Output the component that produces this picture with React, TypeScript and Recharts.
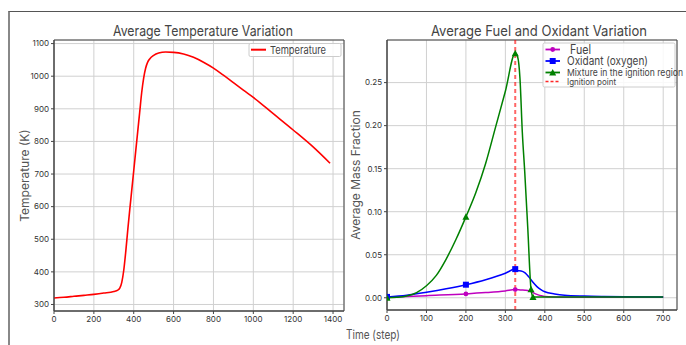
import React from 'react';
import { LineChart, Line, XAxis, YAxis, CartesianGrid, ReferenceLine, ReferenceArea } from 'recharts';

// Left panel: average temperature over time
const tempSteps = [0, 50, 100, 150, 200, 250, 300, 320, 330, 340, 350, 360, 370, 380, 390, 400, 410, 420, 430, 440, 450, 460, 470, 480, 500, 525, 560, 600, 650, 700, 750, 800, 850, 900, 950, 1000, 1100, 1200, 1300, 1385];
const tempValues = [320, 322, 325, 328, 331, 335, 340, 344, 350, 368, 405, 462, 528, 590, 650, 710, 770, 830, 890, 950, 995, 1025, 1043, 1053, 1064, 1071, 1074, 1073, 1068, 1058, 1043, 1025, 1003, 980, 957, 935, 885, 835, 783, 733];
const tempXTicks = [0, 200, 400, 600, 800, 1000, 1200, 1400];
const tempYTicks = [300, 400, 500, 600, 700, 800, 900, 1000, 1100];

// Right panel: fuel / oxidant / mixture mass fractions
const fuelSteps = [0, 100, 200, 250, 300, 325, 340, 350, 360, 370, 380, 390, 400, 450, 500, 700];
const fuelValues = [0.0005, 0.0025, 0.0045, 0.006, 0.008, 0.0095, 0.009, 0.0088, 0.0082, 0.006, 0.004, 0.0025, 0.0015, 0.0007, 0.0005, 0.0005];
const fuelMarks = [0, 200, 325];

const oxSteps = [0, 50, 100, 150, 200, 250, 300, 325, 330, 340, 350, 360, 370, 380, 390, 400, 425, 450, 500, 550, 600, 700];
const oxValues = [0.001, 0.003, 0.0065, 0.0105, 0.0152, 0.021, 0.0285, 0.0333, 0.0315, 0.0312, 0.029, 0.024, 0.018, 0.013, 0.0095, 0.007, 0.0045, 0.003, 0.002, 0.0015, 0.0012, 0.001];
const oxMarks = [0, 200, 325];

const mixSteps = [0, 25, 50, 75, 100, 125, 150, 175, 200, 225, 250, 275, 300, 325, 331, 337, 343, 349, 357, 365, 370, 400, 500, 600, 700];
const mixValues = [0, 0.0005, 0.002, 0.006, 0.014, 0.026, 0.045, 0.068, 0.094, 0.122, 0.156, 0.198, 0.24, 0.284, 0.28, 0.255, 0.192, 0.147, 0.079, 0.01, 0.001, 0.001, 0.001, 0.001, 0.001];
const mixMarks = [0, 200, 325, 365, 370];

const ignitionStep = 325;
const fracXTicks = [0, 100, 200, 300, 400, 500, 600, 700];
const fracYTicks = [0, 0.05, 0.1, 0.15, 0.2, 0.25];

const FONT = 'Inter, "DejaVu Sans", sans-serif';
const tick = { fontSize: 8, fill: '#333', fontFamily: FONT };

const toRows = (steps: number[], vals: number[]) => steps.map((s, i) => ({ step: s, v: vals[i] }));
const tempData = toRows(tempSteps, tempValues);
const fuelData = toRows(fuelSteps, fuelValues);
const oxData = toRows(oxSteps, oxValues);
const mixData = toRows(mixSteps, mixValues);

function markShape(kind: string, color: string, cx: number, cy: number, key: string) {
  if (kind === 'square') return <rect key={key} x={cx - 3} y={cy - 3} width={6} height={6} fill={color} />;
  if (kind === 'tri') return <polygon key={key} points={`${cx},${cy - 3.5} ${cx - 3.5},${cy + 3} ${cx + 3.5},${cy + 3}`} fill={color} />;
  return <circle key={key} cx={cx} cy={cy} r={2.4} fill={color} />;
}

function marker(kind: string, color: string, marks: number[]) {
  return (props: any) => {
    const { cx, cy, payload, index } = props;
    const key = `m-${kind}-${index}`;
    if (!marks.includes(payload.step)) return <g key={key} />;
    return markShape(kind, color, cx, cy, key);
  };
}

const fracLegend = [
  { label: 'Fuel', kind: 'circle', color: '#bf00bf', size: 12.5, y: 49.5, tx: 570, len: 21 },
  { label: 'Oxidant (oxygen)', kind: 'square', color: '#0000ff', size: 11.5, y: 61, tx: 567, len: 81 },
  { label: 'Mixture in the ignition region', kind: 'tri', color: '#008000', size: 9.5, y: 72.5, tx: 567, len: 116 },
  { label: 'Ignition point', kind: 'dash', color: '#ff0000', size: 9, y: 81.5, tx: 567, len: 49 },
];

export default function App() {
  return (
    <div style={{ position: 'absolute', left: 0, top: 0, width: 686, height: 345, background: '#fff', fontFamily: FONT, overflow: 'hidden' }}>
      <div style={{ position: 'absolute', left: 8, top: 11, width: 680, height: 340, borderTop: '1.5px solid #555', borderLeft: '2px solid #888' }} />

      <div style={{ position: 'absolute', left: 0, top: 0 }}>
        <LineChart width={350} height={345} margin={{ top: 40, right: 6, bottom: 14, left: 0 }}>
          <CartesianGrid stroke="#d0d0d0" strokeWidth={1} />
          <XAxis dataKey="step" type="number" domain={[0, 1455]} ticks={tempXTicks} allowDataOverflow height={20} tick={tick} tickSize={3} axisLine={{ stroke: '#444' }} tickLine={{ stroke: '#444' }} />
          <YAxis type="number" domain={[280, 1111]} ticks={tempYTicks} allowDataOverflow width={54} tick={tick} tickSize={3} axisLine={{ stroke: '#444' }} tickLine={{ stroke: '#444' }}
            label={{ value: 'Temperature (K)', angle: -90, position: 'insideLeft', offset: 25, style: { fontSize: 12, fill: '#555', fontFamily: FONT, textAnchor: 'middle' } }} />
          <ReferenceArea x1={0} x2={1455} y1={280} y2={1111} fill="none" stroke="#444" strokeWidth={1} />
          <Line data={tempData} dataKey="v" type="monotone" stroke="#ff0000" strokeWidth={1.6} dot={false} isAnimationActive={false} />
        </LineChart>
      </div>

      <div style={{ position: 'absolute', left: 343, top: 0 }}>
        <LineChart width={343} height={345} margin={{ top: 40, right: 9, bottom: 15, left: 0 }}>
          <CartesianGrid stroke="#d0d0d0" strokeWidth={1} />
          <XAxis dataKey="step" type="number" domain={[0, 735]} ticks={fracXTicks} allowDataOverflow height={20} tick={tick} tickSize={3} axisLine={{ stroke: '#444' }} tickLine={{ stroke: '#444' }} />
          <YAxis type="number" domain={[-0.0142, 0.2995]} ticks={fracYTicks} allowDataOverflow width={44} tick={tick} tickSize={3} tickFormatter={(v: number) => v.toFixed(2)} axisLine={{ stroke: '#444' }} tickLine={{ stroke: '#444' }}
            label={{ value: 'Average Mass Fraction', angle: -90, position: 'insideLeft', offset: 13, style: { fontSize: 12, fill: '#555', fontFamily: FONT, textAnchor: 'middle' } }} />
          <ReferenceArea x1={0} x2={735} y1={-0.0142} y2={0.2995} fill="none" stroke="#444" strokeWidth={1} />
          <Line data={fuelData} dataKey="v" type="monotone" stroke="#bf00bf" strokeWidth={1.5} dot={marker('circle', '#bf00bf', fuelMarks)} isAnimationActive={false} />
          <Line data={oxData} dataKey="v" type="monotone" stroke="#0000ff" strokeWidth={1.5} dot={marker('square', '#0000ff', oxMarks)} isAnimationActive={false} />
          <Line data={mixData} dataKey="v" type="monotone" stroke="#008000" strokeWidth={1.5} dot={marker('tri', '#008000', mixMarks)} isAnimationActive={false} />
          <ReferenceLine x={ignitionStep} stroke="#ff0000" strokeOpacity={0.6} strokeWidth={2} strokeDasharray="4 3" />
        </LineChart>
      </div>

      <svg width={686} height={345} style={{ position: 'absolute', left: 0, top: 0, pointerEvents: 'none' }} fontFamily={FONT}>
        <text x={203} y={36} textAnchor="middle" fontSize={14.5} fill="#444" textLength={180} lengthAdjust="spacingAndGlyphs">Average Temperature Variation</text>
        <text x={539} y={36} textAnchor="middle" fontSize={14.5} fill="#444" textLength={216} lengthAdjust="spacingAndGlyphs">Average Fuel and Oxidant Variation</text>
        <text x={373} y={339} textAnchor="middle" fontSize={12.5} fill="#555" textLength={54} lengthAdjust="spacingAndGlyphs">Time (step)</text>

        <rect x={249} y={43.5} width={92} height={13} fill="rgba(255,255,255,0.85)" stroke="#ccc" rx={1.5} />
        <line x1={251} y1={49.7} x2={266} y2={49.7} stroke="#ff0000" strokeWidth={2} />
        <text x={270} y={54} fontSize={11} fill="#444" textLength={56} lengthAdjust="spacingAndGlyphs">Temperature</text>

        <rect x={543} y={43} width={132} height={44} fill="rgba(255,255,255,0.85)" stroke="#ccc" rx={1.5} />
        {fracLegend.map((d) => (
          <g key={d.label}>
            {d.kind === 'dash' ? (
              <line x1={545.5} y1={d.y} x2={560} y2={d.y} stroke="#ff0000" strokeOpacity={0.85} strokeWidth={1.3} strokeDasharray="3 2" />
            ) : (
              <line x1={545.5} y1={d.y} x2={560} y2={d.y} stroke={d.color} strokeWidth={1.8} />
            )}
            {d.kind !== 'dash' && markShape(d.kind, d.color, 552.7, d.y, `lg-${d.label}`)}
            <text x={d.tx} y={d.y + d.size * 0.36} fontSize={d.size} fill="#444" textLength={d.len} lengthAdjust="spacingAndGlyphs">{d.label}</text>
          </g>
        ))}
      </svg>
    </div>
  );
}
